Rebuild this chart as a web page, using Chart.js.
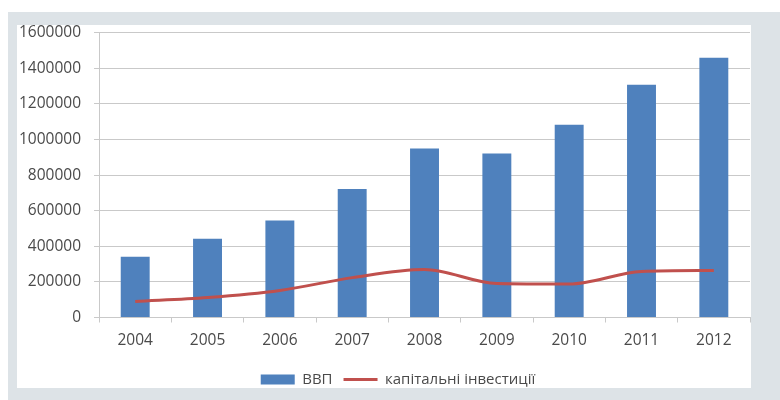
<!DOCTYPE html>
<html>
<head>
<meta charset="utf-8">
<script src="https://cdn.jsdelivr.net/npm/chart.js@4/dist/chart.umd.min.js"></script>
<style>
  html, body { margin: 0; padding: 0; background: #fff; }
  #panel { position: absolute; left: 8px; top: 12px; width: 772px; height: 388px; background: #dde3e7; }
  #box { position: absolute; left: 9px; top: 13px; width: 734px; height: 363px; background: #fff; }
  #chart { position: absolute; left: -11px; top: -13px; display: block; }
</style>
</head>
<body>
<div id="panel"><div id="box"><canvas id="chart" width="745" height="382"></canvas></div></div>
<script>
// years and values
const years = ['2004', '2005', '2006', '2007', '2008', '2009', '2010', '2011', '2012'];
const gdp = [342000, 443000, 545000, 722000, 949000, 921000, 1083000, 1308000, 1460000];
const investments = [90000, 112000, 152000, 224000, 270000, 191000, 188000, 258000, 264000];

const FONT = { family: 'Open Sans', size: 15.5, lineHeight: 1 };
const TEXT = '#4a4a4a';
const GRID = '#c9c9c9';

// the legend in the picture sits a bit right of centre
const nudgeLegend = {
  id: 'nudgeLegend',
  afterLayout(chart) {
    const lg = chart.legend;
    lg.left += 20; lg.right += 20;
    lg.top += 3; lg.bottom += 3;
  },
};

new Chart(document.getElementById('chart').getContext('2d'), {
  data: {
    labels: years,
    datasets: [
      {
        type: 'line',
        label: 'капітальні інвестиції',
        data: investments,
        borderColor: '#c0504d',
        backgroundColor: '#c0504d',
        borderWidth: 3,
        pointRadius: 0,
        pointStyle: 'line',
        cubicInterpolationMode: 'monotone',
        order: 0,
      },
      {
        type: 'bar',
        label: 'ВВП',
        data: gdp,
        backgroundColor: '#4f81bd',
        borderWidth: 0,
        pointStyle: 'rect',
        barPercentage: 0.4,
        categoryPercentage: 1,
        order: 1,
      },
    ],
  },
  plugins: [nudgeLegend],
  options: {
    responsive: false,
    animation: false,
    layout: { padding: { top: 0, right: 1, left: 0, bottom: 0 } },
    plugins: {
      tooltip: { enabled: false },
      legend: {
        position: 'bottom',
        reverse: true,
        labels: {
          usePointStyle: true,
          pointStyleWidth: 34,
          boxHeight: 10,
          padding: 11,
          color: TEXT,
          font: { family: 'Open Sans', size: 15 },
        },
      },
    },
    scales: {
      x: {
        offset: true,
        grid: { offset: true, drawOnChartArea: false, color: GRID, tickLength: 5 },
        border: { color: GRID },
        ticks: { color: TEXT, font: FONT, padding: 10 },
      },
      y: {
        min: 0,
        max: 1600000,
        grid: { color: GRID, tickLength: 5 },
        border: { color: GRID },
        ticks: { stepSize: 200000, color: TEXT, font: FONT, padding: 13, callback: v => String(v) },
      },
    },
  },
});
</script>
</body>
</html>
